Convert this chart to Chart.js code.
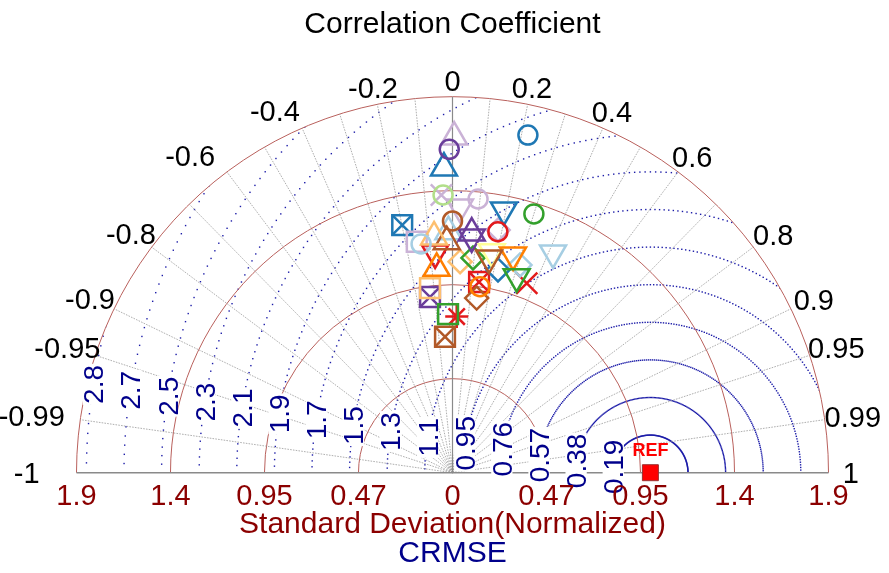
<!DOCTYPE html>
<html>
<head>
<meta charset="utf-8">
<title>Taylor diagram</title>
<script src="https://cdn.jsdelivr.net/npm/chart.js@4/dist/chart.umd.min.js"></script>
<style>
  html, body { margin: 0; padding: 0; background: #ffffff; }
  #taylor { display: block; }
</style>
</head>
<body>
<canvas id="taylor" width="889" height="573"></canvas>
<script>
// ---- model colours (one per model) ----
const modelColors = ['#a6cee3', '#1f78b4', '#b2df8a', '#33a02c', '#fb9a99', '#e31a1c',
                     '#fdbf6f', '#ff7f00', '#cab2d6', '#6a3d9a', '#ffff99', '#b15928'];

// ---- reference ----
const refStd = 1.0;

// ---- axis ticks ----
const sdTicks  = [0, 0.475, 0.95, 1.425, 1.9];
const sdLabels = ['0', '0.47', '0.95', '1.4', '1.9'];
const corLines = [0.1, 0.2, 0.3, 0.4, 0.5, 0.6, 0.7, 0.8, 0.9, 0.95, 0.99];
const corTicks  = [-1, -0.99, -0.95, -0.9, -0.8, -0.6, -0.4, -0.2, 0, 0.2, 0.4, 0.6, 0.8, 0.9, 0.95, 0.99, 1];
const corLabels = ['-1', '-0.99', '-0.95', '-0.9', '-0.8', '-0.6', '-0.4', '-0.2', '0', '0.2', '0.4', '0.6', '0.8', '0.9', '0.95', '0.99', '1'];
const rmsTicks  = [0.19, 0.38, 0.57, 0.76, 0.95, 1.14, 1.33, 1.52, 1.71, 1.9, 2.09, 2.28, 2.47, 2.66, 2.85];
const rmsLabels = ['0.19', '0.38', '0.57', '0.76', '0.95', '1.1', '1.3', '1.5', '1.7', '1.9', '2.1', '2.3', '2.5', '2.7', '2.8'];

// ---- model statistics: colour index, normalized standard deviation, correlation ----
const circleModel = [9, 1, 2, 8, 3, 11, 0, 5, 7];
const circleStd   = [1.634, 1.748, 1.404, 1.389, 1.371, 1.272, 1.167, 1.239, 0.950];
const circleCor   = [-0.010, 0.218, -0.034, 0.093, 0.300, 0.000, -0.136, 0.185, 0.146];

const upTriModel = [8, 1, 0, 11, 6, 7, 9];
const upTriStd   = [1.696, 1.540, 1.218, 1.168, 1.195, 1.036, 1.215];
const upTriCor   = [0.005, -0.028, -0.017, -0.025, -0.078, -0.077, 0.080];

const downTriModel = [8, 1, 5, 9, 10, 7, 0, 3, 11];
const downTriStd   = [1.343, 1.353, 1.114, 1.195, 1.134, 1.142, 1.221, 1.042, 1.100];
const downTriCor   = [0.028, 0.192, -0.079, 0.081, 0.175, 0.268, 0.416, 0.311, 0.168];

const diamondModel = [8, 6, 3, 0, 1, 11];
const diamondStd   = [1.248, 1.067, 1.090, 1.104, 1.050, 0.891];
const diamondCor   = [0.185, 0.036, 0.095, 0.309, 0.219, 0.137];

const squareModel = [8, 6, 3];
const squareStd   = [1.181, 0.940, 0.802];
const squareCor   = [-0.153, -0.121, -0.028];

const boxXModel = [1, 5, 9, 11];
const boxXStd   = [1.277, 0.973, 0.895, 0.688];
const boxXCor   = [-0.199, 0.138, -0.127, -0.055];

const crossModel = [8, 5];
const crossStd   = [1.404, 1.028];
const crossCor   = [-0.040, 0.365];

const starModel = [5];
const starStd   = [0.789];
const starCor   = [0.027];

// ---- helpers ----
function toXY(stds, cors) {
  return stds.map((s, i) => ({ x: s * cors[i], y: s * Math.sqrt(1 - cors[i] * cors[i]) }));
}
function markerSet(models, stds, cors, shape, radius, rotation) {
  return {
    data: toXY(stds, cors),
    showLine: false,
    clip: false,
    pointStyle: shape,
    pointRadius: radius,
    pointHoverRadius: radius,
    pointRotation: rotation || 0,
    pointBorderWidth: 2.5,
    pointBorderColor: models.map(m => modelColors[m]),
    pointBackgroundColor: 'rgba(0,0,0,0)'
  };
}

const SD_MAX = 1.9;
const FONT = '"Liberation Sans", Arial, Helvetica, sans-serif';
// sideways nudges (px) for a few rim labels on the negative side
const rimNudge = { '-1': -26, '-0.99': -19, '-0.6': -22, '-0.4': -18 };

// grid, arcs, RMS contours and all labels of the polar frame
const taylorFrame = {
  id: 'taylorFrame',
  beforeDatasetsDraw(chart) {
    const { ctx, scales } = chart;
    const X = v => scales.x.getPixelForValue(v);
    const Y = v => scales.y.getPixelForValue(v);
    const ox = X(0), oy = Y(0);
    const unit = X(1) - X(0);
    const R = SD_MAX * unit;

    ctx.save();

    // RMS contours around the reference, clipped to the half disc
    ctx.save();
    ctx.beginPath();
    ctx.moveTo(ox - R, oy);
    ctx.arc(ox, oy, R, Math.PI, 2 * Math.PI);
    ctx.closePath();
    ctx.clip();
    ctx.fillStyle = '#1c1ca8';
    const rx = X(refStd);
    rmsTicks.forEach(r => {
      const rp = r * unit;
      for (let d = 0; d <= 180; d += 1) {
        const a = d * Math.PI / 180;
        const px = rx + rp * Math.cos(a), py = oy - rp * Math.sin(a);
        ctx.fillRect(px - 0.7, py - 0.7, 1.4, 1.4);
      }
    });
    ctx.restore();

    // standard deviation arcs
    ctx.strokeStyle = '#b9605c';
    ctx.lineWidth = 1;
    sdTicks.slice(1).forEach(s => {
      ctx.beginPath();
      ctx.arc(ox, oy, s * unit, Math.PI, 2 * Math.PI);
      ctx.stroke();
    });

    // correlation rays
    ctx.strokeStyle = '#9a9a9a';
    ctx.lineWidth = 0.8;
    ctx.setLineDash([1.6, 1.2]);
    corLines.forEach(c => {
      [c, -c].forEach(v => {
        const a = Math.acos(v);
        ctx.beginPath();
        ctx.moveTo(ox, oy);
        ctx.lineTo(ox + R * Math.cos(a), oy - R * Math.sin(a));
        ctx.stroke();
      });
    });
    ctx.setLineDash([]);
    ctx.strokeStyle = '#8a8a8a';
    ctx.lineWidth = 1.2;
    ctx.beginPath();
    ctx.moveTo(ox, oy);
    ctx.lineTo(ox, oy - R);
    ctx.stroke();
    ctx.lineWidth = 1.6;
    ctx.beginPath();
    ctx.moveTo(ox - R, oy);
    ctx.lineTo(ox + R, oy);
    ctx.stroke();

    // RMS labels, written upward with a white box
    const rmsFs = 28;
    ctx.font = rmsFs + 'px ' + FONT;
    ctx.textAlign = 'center';
    ctx.textBaseline = 'alphabetic';
    const la = 9 * Math.PI / 180;
    rmsTicks.forEach((r, i) => {
      const cx = rx - r * unit * Math.cos(la);
      const cy = oy - r * unit * Math.sin(la);
      const w = ctx.measureText(rmsLabels[i]).width;
      ctx.save();
      ctx.translate(cx, cy);
      ctx.rotate(-Math.PI / 2);
      ctx.fillStyle = '#ffffff';
      ctx.fillRect(-w / 2 - 1, -rmsFs * 0.38, w + 2, rmsFs * 0.76);
      ctx.fillStyle = '#00008b';
      ctx.fillText(rmsLabels[i], 0, rmsFs * 0.358);
      ctx.restore();
    });

    // correlation labels around the rim
    const cFs = 29;
    ctx.font = cFs + 'px ' + FONT;
    ctx.fillStyle = '#000000';
    corTicks.forEach((c, i) => {
      const a = Math.acos(c);
      const w = ctx.measureText(corLabels[i]).width;
      const L = R + 20 + 0.15 * w * Math.abs(Math.cos(a));
      const cx = ox + L * Math.cos(a) + (rimNudge[corLabels[i]] || 0);
      const cy = oy - (L - 4) * Math.sin(a);
      ctx.fillText(corLabels[i], cx, cy + cFs * 0.358);
    });

    // standard deviation tick labels
    ctx.fillStyle = '#8b0000';
    sdTicks.forEach((s, i) => {
      ctx.fillText(sdLabels[i], X(s), 505);
      if (s > 0) ctx.fillText(sdLabels[i], X(-s), 505);
    });

    ctx.font = '30px ' + FONT;
    ctx.fillText('Standard Deviation(Normalized)', ox, 533);
    ctx.fillStyle = '#00008b';
    ctx.fillText('CRMSE', ox, 562);
    ctx.fillStyle = '#000000';
    ctx.fillText('Correlation Coefficient', ox, 33);

    ctx.restore();
  },
  afterDatasetsDraw(chart) {
    const { ctx, scales } = chart;
    ctx.save();
    ctx.font = 'bold 18px ' + FONT;
    ctx.fillStyle = '#ff0000';
    ctx.textAlign = 'center';
    ctx.fillText('REF', scales.x.getPixelForValue(refStd), scales.y.getPixelForValue(0) - 17);
    ctx.restore();
  }
};

const datasets = [
  markerSet(circleModel, circleStd, circleCor, 'circle', 9.5),
  markerSet(upTriModel, upTriStd, upTriCor, 'triangle', 15, 0),
  markerSet(downTriModel, downTriStd, downTriCor, 'triangle', 15, 180),
  markerSet(diamondModel, diamondStd, diamondCor, 'rectRot', 11.5),
  markerSet(squareModel, squareStd, squareCor, 'rect', 14),
  markerSet(boxXModel, boxXStd, boxXCor, 'rect', 14),
  markerSet(boxXModel, boxXStd, boxXCor, 'crossRot', 14),
  markerSet(crossModel, crossStd, crossCor, 'crossRot', 15),
  markerSet(starModel, starStd, starCor, 'star', 11.5),
  {
    data: [{ x: refStd, y: 0 }],
    showLine: false,
    clip: false,
    pointStyle: 'rect',
    pointRadius: 11.3,
    pointBorderWidth: 1,
    pointBorderColor: '#9a3030',
    pointBackgroundColor: '#ff0000'
  }
];

new Chart(document.getElementById('taylor'), {
  type: 'scatter',
  data: { datasets },
  options: {
    responsive: false,
    animation: false,
    events: [],
    layout: { padding: 0, autoPadding: false },
    plugins: { legend: { display: false }, tooltip: { enabled: false } },
    scales: {
      x: { type: 'linear', display: false, min: -2.2865, max: 2.2057 },
      y: { type: 'linear', display: false, min: -0.5068, max: 2.3886 }
    }
  },
  plugins: [taylorFrame]
});
</script>
</body>
</html>
